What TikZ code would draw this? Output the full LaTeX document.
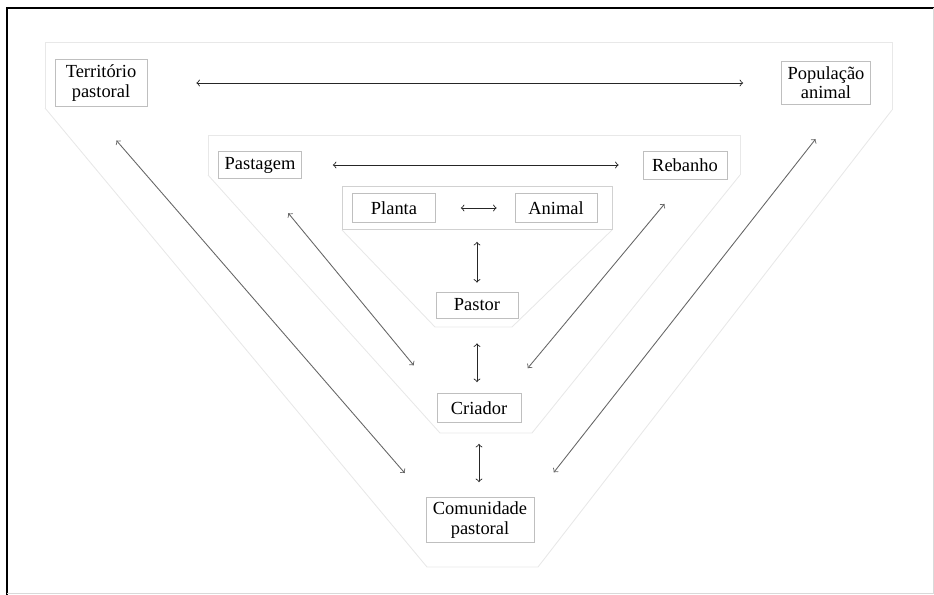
\documentclass[tikz,border=0pt]{standalone}
\usepackage{fontspec}
\setmainfont{Liberation Serif}
\usetikzlibrary{arrows}

\begin{document}
\begin{tikzpicture}[
    x=0.02cm, y=-0.02cm,
    kasten/.style={
      draw=black!25,
      line width=.4pt,
      inner sep=1pt,
      align=center,
      font=\fontsize{10.5}{11}\selectfont},
    rahmen/.style={draw=black!9, line width=.5pt},
    pfeil/.style={draw, <->, black!85, line width=.5pt},
    schraeg/.style={draw, <->, black!60, line width=.5pt}
    ]

  \useasboundingbox (0,0) rectangle (934,595);

  % Rand
  \draw[line width=1.2pt] (7,595) -- (7,8) -- (934,8);
  \draw[black!15] (933,8) -- (933,593) -- (7,593);

  % blasse Umrisse
  \draw[rahmen] (45,108) -- (45,42) -- (892,42) -- (892,110);
  \draw[rahmen] (45,108) -- (427,567) -- (538,567) -- (892,110);
  \draw[rahmen] (208,175) -- (208,135) -- (740,135) -- (740,175);
  \draw[rahmen] (208,175) -- (440,433) -- (532,433) -- (740,175);
  \draw[rahmen] (342,230) -- (435,327) -- (512,327) -- (612,230);


  \node at (101, 83) (territorio) [kasten, minimum width=1.84cm, minimum height=.94cm] {Território\\pastoral};
\node at (826, 83) (populacao) [kasten, minimum width=1.78cm, minimum height=.86cm] {População\\animal};
\node at (260, 165) (pastagem) [kasten, minimum width=1.66cm, minimum height=.54cm] {Pastagem};
\node at (685, 165) (rebanho) [kasten, minimum width=1.68cm, minimum height=.56cm] {Rebanho};
\node at (477, 208) (paar) [draw=black!18, line width=.4pt, minimum width=5.4cm, minimum height=.86cm] {};
\node at (394, 208) (planta) [kasten, minimum width=1.66cm, minimum height=.58cm] {Planta};
\node at (556, 208) (animal) [kasten, minimum width=1.64cm, minimum height=.58cm] {Animal};
\node at (477, 305) (pastor) [kasten, minimum width=1.64cm, minimum height=.52cm] {Pastor};
\node at (479, 408) (criador) [kasten, minimum width=1.68cm, minimum height=.58cm] {Criador};
\node at (480, 520) (comunidade) [kasten, minimum width=2.16cm, minimum height=.9cm] {Comunidade\\pastoral};


  \path[every edge/.style=pfeil]

        (territorio) edge[shorten <=.98cm, shorten >=.76cm] (populacao)
(pastagem) edge[shorten <=.62cm, shorten >=.48cm] (rebanho)
(planta) edge[shorten <=.5cm, shorten >=.36cm] (animal)
(paar.south) edge[shorten <=.24cm, shorten >=.18cm] (paar.south |- pastor.north)
(pastor.south) edge[shorten <=.5cm, shorten >=.22cm] (pastor.south |- criador.north)
(criador.south) edge[shorten <=.42cm, shorten >=.3cm] (criador.south |- comunidade.north)

   ;

  \path[every edge/.style=schraeg]

        (territorio.240) edge[shorten <=.89cm, shorten >=.64cm] (comunidade.north west)
(populacao.-53) edge[shorten <=.87cm, shorten >=.63cm] (comunidade.north east)
(pastagem.south) edge[shorten <=.89cm, shorten >=.72cm] (criador.north west)
(rebanho.south) edge[shorten <=.64cm, shorten >=.65cm] (criador.28)

   ;

\end{tikzpicture}
\end{document}
